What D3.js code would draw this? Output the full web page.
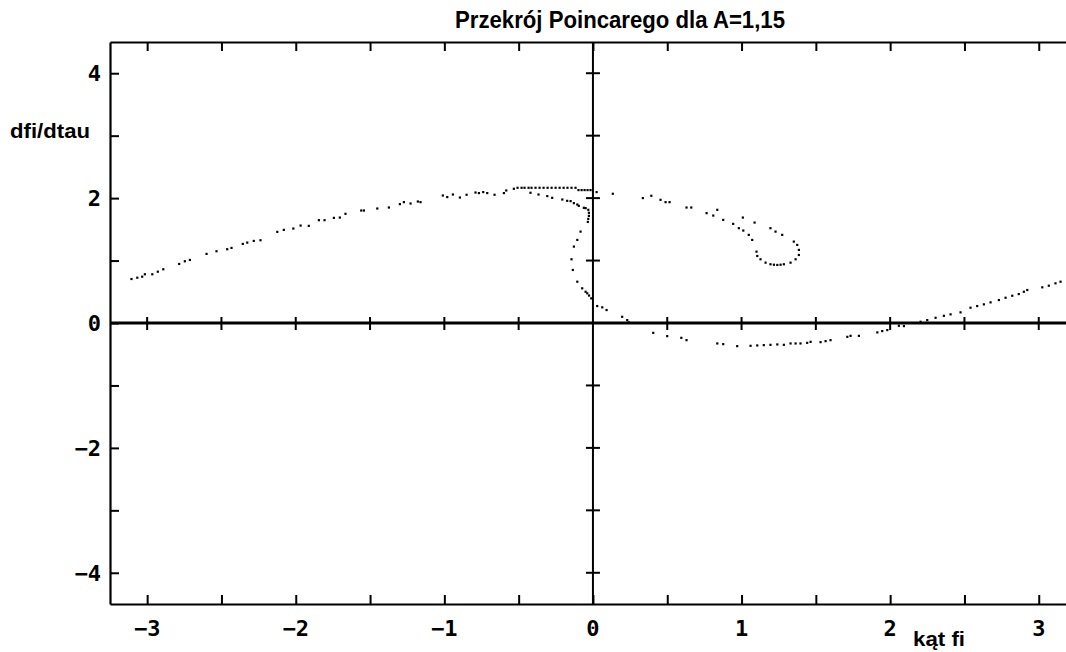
<!DOCTYPE html>
<html>
<head>
<meta charset="utf-8">
<script src="https://cdn.jsdelivr.net/npm/d3@7"></script>
<style>
  body { margin: 0; background: #fff; }
  svg { display: block; }
  .tickLabel { font-family: "DejaVu Sans Mono", monospace; font-weight: bold; font-size: 22px; fill: #000; }
  .title, .axisTitle { font-family: "Liberation Sans", Arial, sans-serif; font-weight: bold; fill: #000; }
</style>
</head>
<body>
<svg id="chart" width="1066" height="652"></svg>
<script>
// tick values
var xMinorTicks = [-3, -2.5, -2, -1.5, -1, -0.5, 0, 0.5, 1, 1.5, 2, 2.5, 3];
var xLabels = [-3, -2, -1, 0, 1, 2, 3];
var yMinorTicks = [-4, -3, -2, -1, 0, 1, 2, 3, 4];
var yLabels = [-4, -2, 0, 2, 4];

// Poincare section points [fi, dfi/dtau]
var leftArm = [
  [-3.106, 0.706], [-3.067, 0.727], [-3.034, 0.743], [-3.016, 0.782], [-2.966, 0.782],
  [-2.929, 0.823], [-2.892, 0.862], [-2.785, 0.947], [-2.747, 0.990], [-2.713, 1.011],
  [-2.601, 1.108], [-2.534, 1.151], [-2.462, 1.183], [-2.433, 1.204], [-2.357, 1.268],
  [-2.327, 1.289], [-2.283, 1.316], [-2.238, 1.327], [-2.125, 1.461], [-2.081, 1.493],
  [-2.017, 1.514], [-1.968, 1.562], [-1.913, 1.557], [-1.845, 1.648], [-1.807, 1.648],
  [-1.744, 1.685], [-1.704, 1.690], [-1.666, 1.750], [-1.560, 1.803], [-1.542, 1.803],
  [-1.452, 1.835], [-1.374, 1.851], [-1.300, 1.905], [-1.273, 1.937], [-1.228, 1.915],
  [-1.179, 1.947], [-1.161, 1.937], [-1.011, 2.043], [-0.981, 2.018], [-0.943, 2.059],
  [-0.896, 2.011], [-0.851, 2.055], [-0.791, 2.091], [-0.768, 2.082], [-0.739, 2.098],
  [-0.712, 2.082], [-0.663, 2.055], [-0.600, 2.082], [-0.584, 2.124], [-0.533, 2.151]
];
var topRidge = [
  [-0.508, 2.167], [-0.481, 2.167], [-0.461, 2.167], [-0.434, 2.167], [-0.414, 2.167],
  [-0.387, 2.167], [-0.360, 2.167], [-0.333, 2.167], [-0.306, 2.167], [-0.279, 2.167],
  [-0.252, 2.167], [-0.225, 2.167], [-0.198, 2.167], [-0.172, 2.167], [-0.145, 2.167],
  [-0.118, 2.167], [-0.098, 2.130], [-0.077, 2.130], [-0.057, 2.130], [-0.037, 2.130],
  [-0.017, 2.130]
];
var foldBranch = [
  [-0.421, 2.087], [-0.367, 2.059], [-0.308, 2.034], [-0.275, 2.006], [-0.207, 1.979],
  [-0.174, 1.958], [-0.151, 1.953], [-0.129, 1.921], [-0.106, 1.899], [-0.096, 1.878],
  [-0.062, 1.846], [-0.050, 1.841], [-0.032, 1.814], [-0.028, 1.766], [-0.028, 1.717],
  [-0.032, 1.669], [-0.035, 1.621], [-0.084, 1.465], [-0.106, 1.332], [-0.129, 1.225],
  [-0.145, 1.022], [-0.136, 0.851], [-0.106, 0.663], [-0.073, 0.557], [-0.050, 0.502],
  [-0.039, 0.477], [-0.027, 0.441], [-0.012, 0.396], [0.028, 0.273], [0.062, 0.252],
  [0.091, 0.209], [0.196, 0.101], [0.230, 0.048], [0.241, 0.011]
];
var lowerArm = [
  [0.405, -0.156], [0.499, -0.209], [0.594, -0.236], [0.629, -0.273], [0.836, -0.326],
  [0.876, -0.337], [0.970, -0.369], [1.060, -0.364], [1.105, -0.358], [1.149, -0.353],
  [1.194, -0.348], [1.240, -0.342], [1.284, -0.348], [1.329, -0.326], [1.363, -0.326],
  [1.396, -0.326], [1.441, -0.316], [1.464, -0.300], [1.531, -0.305], [1.565, -0.289],
  [1.598, -0.273], [1.711, -0.220], [1.733, -0.204], [1.789, -0.204], [1.913, -0.149],
  [1.946, -0.128], [1.980, -0.112], [2.058, -0.043], [2.092, -0.048], [2.204, 0.021],
  [2.249, 0.048], [2.305, 0.085], [2.361, 0.117], [2.406, 0.140], [2.473, 0.172],
  [2.540, 0.246], [2.585, 0.273], [2.630, 0.300], [2.675, 0.332], [2.731, 0.369],
  [2.776, 0.406], [2.821, 0.438], [2.865, 0.465], [2.899, 0.502], [2.922, 0.530],
  [3.023, 0.573], [3.067, 0.599], [3.112, 0.637], [3.146, 0.663]
];
var spiralArm = [
  [0.024, 2.098], [0.133, 2.071], [0.335, 2.002], [0.392, 2.039], [0.454, 1.974],
  [0.488, 1.937], [0.515, 1.937], [0.629, 1.851], [0.661, 1.851], [0.764, 1.761],
  [0.809, 1.722], [0.836, 1.814], [0.876, 1.653], [0.943, 1.589], [1.008, 1.690],
  [0.981, 1.520], [1.011, 1.482], [1.048, 1.413], [1.071, 1.332], [1.087, 1.610],
  [1.194, 1.520], [1.228, 1.465], [1.273, 1.413], [1.351, 1.305], [1.374, 1.252],
  [1.385, 1.172], [1.385, 1.091], [1.363, 1.022], [1.329, 0.968], [1.284, 0.942],
  [1.262, 0.935], [1.240, 0.931], [1.217, 0.935], [1.194, 0.942], [1.161, 0.968],
  [1.127, 1.022], [1.105, 1.075], [1.100, 1.144]
];

var svg = d3.select("#chart");
var plotLeft = 110, plotTop = 42, plotBottom = 604;

var x = d3.scaleLinear().domain([-3.25, 3.25]).range([plotLeft, plotLeft + 6.5 * 148.6]);
var y = d3.scaleLinear().domain([-4.5, 4.5]).range([plotBottom, plotTop]);

// frame: top edge ticks
svg.append("g")
  .attr("transform", "translate(0," + plotTop + ")")
  .call(d3.axisBottom(x).tickValues(xMinorTicks).tickSize(9).tickSizeOuter(0).tickFormat(""));
// bottom edge ticks
svg.append("g")
  .attr("transform", "translate(0," + plotBottom + ")")
  .call(d3.axisTop(x).tickValues(xMinorTicks).tickSize(9).tickSizeOuter(0).tickFormat(""));
// left edge ticks
svg.append("g")
  .attr("transform", "translate(" + plotLeft + ",0)")
  .call(d3.axisRight(y).tickValues(yMinorTicks).tickSize(9).tickSizeOuter(0).tickFormat(""));

svg.selectAll(".domain").attr("stroke", "#000").attr("stroke-width", 2.2);
svg.selectAll(".tick line").attr("stroke", "#000").attr("stroke-width", 2);

// centre axes
svg.append("line")
  .attr("x1", plotLeft).attr("x2", 1066)
  .attr("y1", y(0)).attr("y2", y(0))
  .attr("stroke", "#000").attr("stroke-width", 2.8);
svg.append("line")
  .attr("x1", x(0)).attr("x2", x(0))
  .attr("y1", plotTop).attr("y2", plotBottom)
  .attr("stroke", "#000").attr("stroke-width", 2);

svg.selectAll(".hcross")
  .data(xMinorTicks.filter(function (d) { return d !== 0; }))
  .enter().append("line")
  .attr("x1", function (d) { return x(d); }).attr("x2", function (d) { return x(d); })
  .attr("y1", y(0) - 6).attr("y2", y(0) + 7)
  .attr("stroke", "#000").attr("stroke-width", 2);
svg.selectAll(".vcross")
  .data(yMinorTicks.filter(function (d) { return d !== 0; }))
  .enter().append("line")
  .attr("x1", x(0) - 7).attr("x2", x(0) + 7)
  .attr("y1", function (d) { return y(d); }).attr("y2", function (d) { return y(d); })
  .attr("stroke", "#000").attr("stroke-width", 2);

// tick labels
var fmt = d3.format("d");
svg.selectAll(".xl")
  .data(xLabels)
  .enter().append("text")
  .attr("class", "tickLabel")
  .attr("x", function (d) { return x(d); })
  .attr("y", 636)
  .attr("text-anchor", "middle")
  .text(function (d) { return fmt(d); });
svg.selectAll(".yl")
  .data(yLabels)
  .enter().append("text")
  .attr("class", "tickLabel")
  .attr("x", 101)
  .attr("y", function (d) { return y(d) + 8; })
  .attr("text-anchor", "end")
  .text(function (d) { return fmt(d); });

// titles
svg.append("text").attr("class", "title")
  .attr("x", 455).attr("y", 28)
  .attr("textLength", 330).attr("lengthAdjust", "spacingAndGlyphs")
  .style("font-size", "23px")
  .text("Przekrój Poincarego dla A=1,15");
svg.append("text").attr("class", "axisTitle")
  .attr("x", 10).attr("y", 138)
  .attr("textLength", 80).attr("lengthAdjust", "spacingAndGlyphs")
  .style("font-size", "21px")
  .text("dfi/dtau");
svg.append("text").attr("class", "axisTitle")
  .attr("x", 913).attr("y", 646)
  .attr("textLength", 52).attr("lengthAdjust", "spacingAndGlyphs")
  .style("font-size", "21px")
  .text("kąt fi");

// points
var allPoints = leftArm.concat(topRidge, foldBranch, lowerArm, spiralArm);
svg.selectAll(".pt")
  .data(allPoints)
  .enter().append("rect")
  .attr("class", "pt")
  .attr("x", function (d) { return x(d[0]) - 1; })
  .attr("y", function (d) { return y(d[1]) - 1; })
  .attr("width", 2.2)
  .attr("height", 2.2)
  .attr("fill", "#000");
</script>
</body>
</html>
